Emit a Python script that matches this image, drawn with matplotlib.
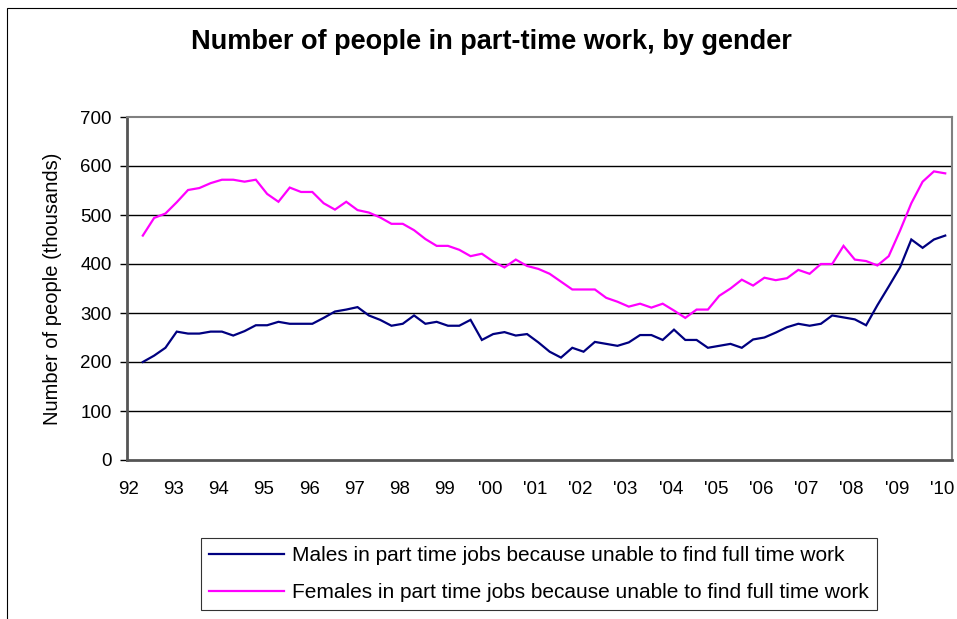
import numpy as np
import matplotlib
matplotlib.use("Agg")
import matplotlib.pyplot as plt
from matplotlib.patches import Rectangle
from matplotlib.lines import Line2D

plt.rcParams['font.family'] = ['Liberation Sans', 'DejaVu Sans']

title = "Number of people in part-time work, by gender"
ylabel = "Number of people (thousands)"
male_label = "Males in part time jobs because unable to find full time work"
female_label = "Females in part time jobs because unable to find full time work"

# quarterly series, first quarter centred at ~1992.32
start_year = 1992.32
quarter = 0.25

males = [200, 213, 229, 262, 258, 258, 262, 262, 254, 263, 275, 275, 282, 278, 278, 278,
         290, 303, 307, 312, 295, 286, 274, 278, 295, 278, 282, 274, 274, 286, 245, 257,
         261, 254, 257, 240, 221, 209, 229, 221, 241, 237, 233, 240, 255, 255, 245, 266,
         245, 245, 229, 233, 237, 229, 246, 250, 260, 271, 278, 274, 278, 295, 291, 287,
         275, 316, 354, 393, 450, 433, 450, 458]

females = [458, 494, 503, 526, 551, 555, 565, 572, 572, 568, 572, 543, 527, 556, 547, 547,
           524, 511, 527, 510, 505, 495, 482, 482, 469, 451, 437, 437, 429, 416, 421, 405,
           393, 409, 396, 390, 380, 364, 348, 348, 348, 331, 323, 313, 319, 311, 319, 305,
           290, 307, 307, 335, 350, 368, 356, 372, 367, 371, 388, 380, 400, 400, 437, 409,
           406, 397, 416, 468, 524, 568, 589, 585]

tick_years = list(range(1992, 2011))
tick_labels = ["92", "93", "94", "95", "96", "97", "98", "99", "'00", "'01", "'02", "'03",
               "'04", "'05", "'06", "'07", "'08", "'09", "'10"]
yticks = [0, 100, 200, 300, 400, 500, 600, 700]

W, H = 957, 619
fig = plt.figure(figsize=(W / 100, H / 100), dpi=100)
fig.patch.set_facecolor('white')

# outer chart border
fig.add_artist(Rectangle((7 / W, -0.01), 1.0, 1 - 8 / H + 0.01, transform=fig.transFigure,
                         fill=False, edgecolor='#000000', linewidth=0.8))

left, right, top, bottom = 127, 952, 117, 460
ax = fig.add_axes([left / W, 1 - bottom / H, (right - left) / W, (bottom - top) / H])

x = start_year + quarter * np.arange(len(males))
ax.plot(x, males, color='#000080', linewidth=1.6, solid_joinstyle='miter')
ax.plot(x, females, color='#FF00FF', linewidth=1.6, solid_joinstyle='miter')

ax.set_xlim(1991.97, 2010.22)
ax.set_ylim(0, 700)
ax.set_yticks(yticks)
ax.set_yticklabels([str(v) for v in yticks], fontsize=13.5)
ax.set_xticks(tick_years)
ax.set_xticklabels(tick_labels, fontsize=13.5)
ax.tick_params(axis='x', length=0, pad=15)
ax.tick_params(axis='y', length=5, width=1, direction='out', pad=6, color='#000000')
for v in yticks[1:-1]:
    ax.axhline(v, color='#000000', linewidth=1.0, zorder=0)

for s in ['top', 'right']:
    ax.spines[s].set_color('#808080')
    ax.spines[s].set_linewidth(1.5)
for s in ['left', 'bottom']:
    ax.spines[s].set_color('#555555')
    ax.spines[s].set_linewidth(2.0)

ax.set_ylabel(ylabel, fontsize=14.5, labelpad=13)
fig.text(491 / W, 1 - 42 / H, title, ha='center', va='center', fontsize=19.5, fontweight='bold')

handles = [Line2D([], [], color='#000080', linewidth=1.6),
           Line2D([], [], color='#FF00FF', linewidth=1.6)]
leg = fig.legend(handles, [male_label, female_label], loc='center',
                 bbox_to_anchor=(539 / W, 1 - 574 / H), fontsize=15, frameon=True,
                 fancybox=False, edgecolor='#000000', handlelength=3.6, handletextpad=0.4,
                 labelspacing=0.85, borderpad=0.4)
leg.get_frame().set_linewidth(0.8)

fig.savefig("out.png", dpi=100, facecolor='white')
